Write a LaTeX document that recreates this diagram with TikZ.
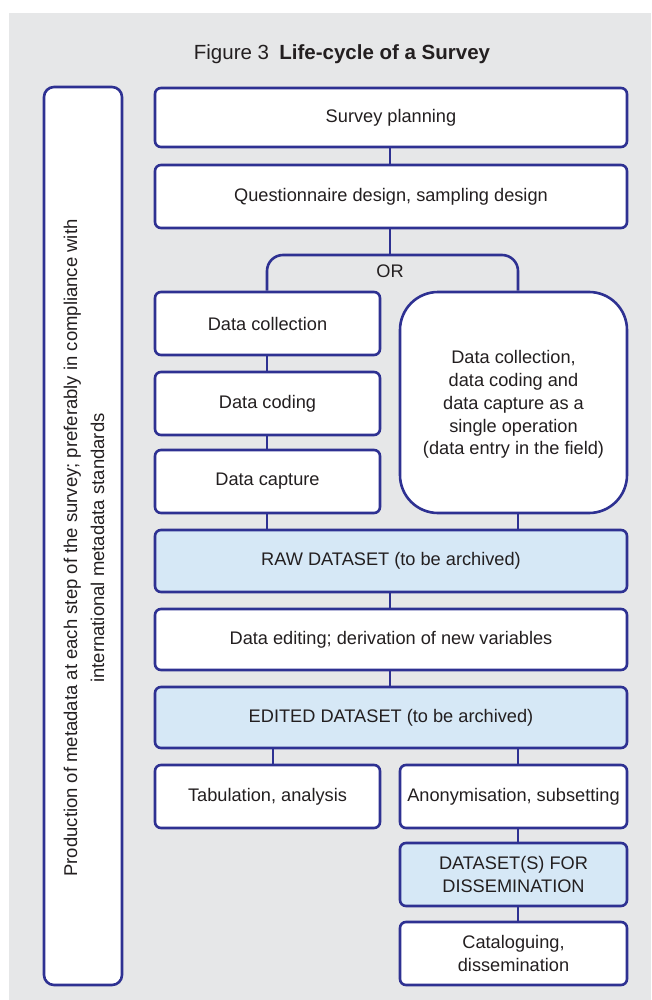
\documentclass[tikz,border=0pt]{standalone}
\usepackage{fontspec}
\setmainfont{Liberation Sans}
\definecolor{bord}{RGB}{46,49,146}
\definecolor{bluefill}{RGB}{214,232,246}
\definecolor{bggray}{RGB}{230,231,232}
\definecolor{txt}{RGB}{35,31,32}
\begin{document}
\begin{tikzpicture}[x=1pt,y=-1pt,
  every node/.style={text=txt,font=\fontsize{18.2}{22.8}\selectfont},
  box/.style={draw=bord,line width=2.6pt,fill=white,rounded corners=6pt,inner sep=0pt,align=center},
  bluebox/.style={box,fill=bluefill},
  conn/.style={draw=bord,line width=2.6pt}]
\useasboundingbox (0,0) rectangle (651,1000);
\fill[white] (0,0) rectangle (651,1000);
\fill[bggray] (9,13) rectangle (651,1000);
\node (title) at (342,54) {\fontsize{20.5}{24}\selectfont Figure 3\enspace\textbf{Life-cycle of a Survey}};
% left box
\node[box,minimum width=78pt,minimum height=898pt,rounded corners=10pt] (meta) at (83,536) {};
\node[rotate=90,align=center,font=\fontsize{18.5}{27}\selectfont] (metatext) at (84,548)
  {Production of metadata at each step of the survey; preferably in compliance with\\international metadata standards};
% main boxes
\node[box,minimum width=472pt,minimum height=59pt] (plan) at (391,117.5) {Survey planning};
\node[box,minimum width=472pt,minimum height=63pt] (quest) at (391,196.5) {Questionnaire design, sampling design};
\coordinate (orL) at (267,255);
\coordinate (orR) at (518,255);
\node (or) at (390,271) {OR};
\node[box,minimum width=225pt,minimum height=63pt] (dcoll) at (267.5,323.5) {Data collection};
\node[box,minimum width=225pt,minimum height=63pt] (dcode) at (267.5,403.5) {Data coding};
\node[box,minimum width=225pt,minimum height=63pt] (dcap) at (267.5,481.5) {Data capture};
\node[box,minimum width=227pt,minimum height=221pt,rounded corners=38pt] (single) at (513.5,402.5) {};
\node[align=center] (singletext) at (513.5,404.5)
  {Data collection,\\data coding and\\data capture as a\\single operation\\(data entry in the field)};
\node[bluebox,minimum width=472pt,minimum height=62pt] (raw) at (391,561) {RAW DATASET (to be archived)};
\node[box,minimum width=472pt,minimum height=61pt] (edit) at (391,639.5) {Data editing; derivation of new variables};
\node[bluebox,minimum width=472pt,minimum height=61pt] (edited) at (391,717.5) {EDITED DATASET (to be archived)};
\node[box,minimum width=225pt,minimum height=63pt] (tab) at (267.5,796.5) {Tabulation, analysis};
\node[box,minimum width=227pt,minimum height=63pt] (anon) at (513.5,796.5) {Anonymisation, subsetting};
\node[bluebox,minimum width=227pt,minimum height=63pt] (diss) at (513.5,874.5) {DATASET(S) FOR\\DISSEMINATION};
\node[box,minimum width=227pt,minimum height=63pt] (cat) at (513.5,953.5) {Cataloguing,\\dissemination};
% connectors
\draw[conn] (plan.south -| 390,0) -- (quest.north -| 390,0);
\draw[conn] (quest.south -| 390,0) -- (390,255);
\draw[conn,rounded corners=16pt] (dcoll.north -| orL) -- (orL) -- (orR) -- (single.north -| orR);
\draw[conn] (dcoll.south -| orL) -- (dcode.north -| orL);
\draw[conn] (dcode.south -| orL) -- (dcap.north -| orL);
\draw[conn] (dcap.south -| orL) -- (raw.north -| orL);
\draw[conn] (single.south -| orR) -- (raw.north -| orR);
\draw[conn] (raw.south -| 390,0) -- (edit.north -| 390,0);
\draw[conn] (edit.south -| 390,0) -- (edited.north -| 390,0);
\draw[conn] (edited.south -| 273,0) -- (tab.north -| 273,0);
\draw[conn] (edited.south -| orR) -- (anon.north -| orR);
\draw[conn] (anon.south -| orR) -- (diss.north -| orR);
\draw[conn] (diss.south -| orR) -- (cat.north -| orR);
\end{tikzpicture}
\end{document}
